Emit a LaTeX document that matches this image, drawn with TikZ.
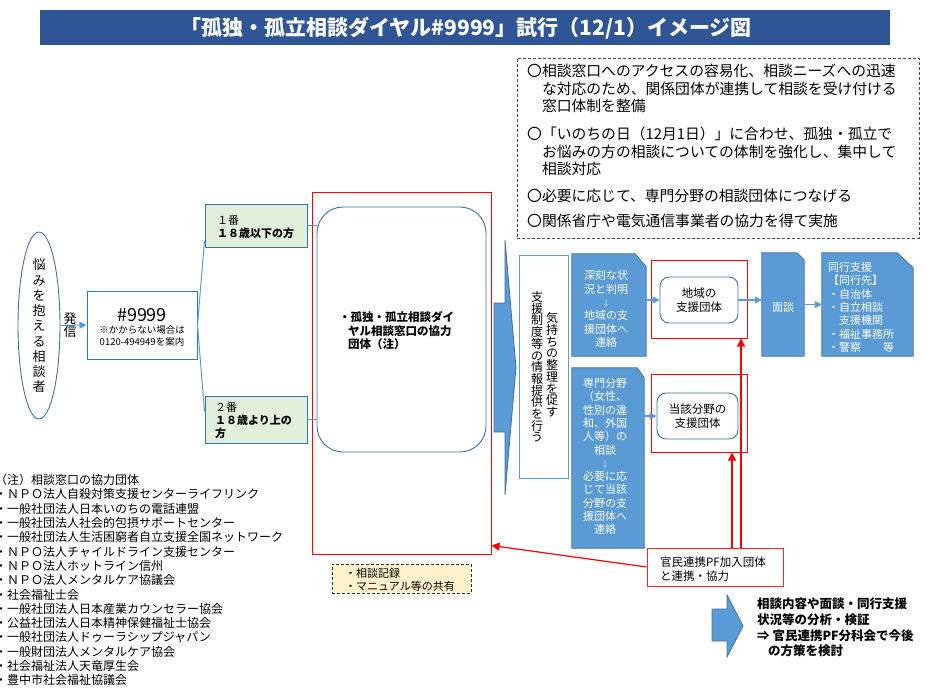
\documentclass[tikz,border=0pt]{standalone}
\usepackage{fontspec}
\setmainfont{Noto Sans CJK JP}
\usetikzlibrary{arrows.meta,shapes.geometric,calc}
\definecolor{titlebg}{HTML}{2F5597}
\definecolor{bfill}{HTML}{5B9BD5}
\definecolor{bborder}{HTML}{41719C}
\definecolor{lblue}{HTML}{5B9BD5}
\definecolor{gfill}{HTML}{E2EFDA}
\definecolor{gborder}{HTML}{2E75B6}
\definecolor{yfill}{HTML}{FFF2CC}
\lineskiplimit=-30pt
\tikzset{
  txt/.style={inner sep=0pt, anchor=base west, align=left},
  fs/.style 2 args={font=\fontsize{#1}{#2}\selectfont},
  bfs/.style 2 args={font=\bfseries\fontsize{#1}{#2}\selectfont},
  bluepoly/.style={fill=bfill, draw=bborder, line width=0.8pt},
  barrow/.style={draw=lblue, line width=1.3pt, -{Triangle[length=7pt,width=7pt]}},
  redarrow/.style={draw=red, line width=1.2pt, -{Triangle[length=8pt,width=8pt]}},
  fanline/.style={draw=lblue, line width=1pt},
  redbox/.style={draw=red, line width=1pt, inner sep=0pt},
  roundbox/.style={draw=bborder, fill=white, line width=0.9pt, inner sep=0pt},
  dashbox/.style={draw=black!70, dash pattern=on 3pt off 2pt, line width=0.9pt, inner sep=0pt},
}
\begin{document}
\begin{tikzpicture}[x=1pt,y=-1pt]
\useasboundingbox (0,0) rectangle (932,689);
\clip (0,0) rectangle (932,689);

% title
\node[fill=titlebg, minimum width=850, minimum height=35, inner sep=0pt] (titlebar) at (465,27.5) {};
\node[text=white, bfs={21}{21}, inner sep=0pt] (title) at (466,28) {「孤独・孤立相談ダイヤル\#9999」試行（12/1）イメージ図};

% goals box (base = last line)
\node[dashbox, minimum width=402, minimum height=180] (goals) at (718,148) {};
\node[txt, fs={14.8}{17.5}] (g1) at (527,111.6) {〇相談窓口へのアクセスの容易化、相談ニーズへの迅速\\　な対応のため、関係団体が連携して相談を受け付ける\\　窓口体制を整備};
\node[txt, fs={14.8}{17.5}] (g2) at (527,174.6) {〇「いのちの日（12月1日）」に合わせ、孤独・孤立で\\　お悩みの方の相談についての体制を強化し、集中して\\　相談対応};
\node[txt, fs={14.8}{17.5}] (g3) at (527,201.6) {〇必要に応じて、専門分野の相談団体につなげる};
\node[txt, fs={14.8}{17.5}] (g4) at (527,226.6) {〇関係省庁や電気通信事業者の協力を得て実施};

% caller ellipse
\node[draw=bborder, ellipse, line width=0.9pt, minimum width=42, minimum height=187, inner sep=0pt] (ell) at (39,325.5) {};
\node[fs={13}{15.25}, align=center, inner sep=0pt] (elltext) at (39,326) {悩\\み\\を\\抱\\え\\る\\相\\談\\者};

% #9999 box
\node[draw=gborder, line width=1pt, minimum width=110, minimum height=68, inner sep=0pt] (n9999) at (142,325) {};
\node[fs={18}{18}, inner sep=0pt] (num) at (142,315) {\#9999};
\node[fs={9.5}{11.5}, align=center, inner sep=0pt] (note) at (142,336) {※かからない場合は\\0120-494949を案内};
\draw[barrow, line width=1pt] (ell.east) -- (n9999.west);
\node[fs={13}{13}, align=center, inner sep=0pt] (hasshin) at (70,325.5) {発\\信};

% 1ban / 2ban
\node[draw=gborder, fill=gfill, line width=1pt, minimum width=102, minimum height=43, inner sep=0pt] (ban1) at (256,225.5) {};
\node[txt, fs={11}{13.2}] (ban1t) at (217,237.4) {１番\\\textbf{１８歳以下の方}};
\node[draw=gborder, fill=gfill, line width=1pt, minimum width=102, minimum height=47, inner sep=0pt] (ban2) at (256,419.5) {};
\node[txt, fs={11}{13.2}] (ban2t) at (215,437.6) {２番\\\textbf{１８歳より上の}\\\textbf{方}};
\draw[fanline] ([yshift=7pt]ban1.south west) -- (n9999.east) -- ([yshift=-16pt]ban2.north west);

% big red + rounded box
\node[redbox, minimum width=179, minimum height=362] (bigred) at (401.5,373) {};
\node[roundbox, rounded corners=26pt, minimum width=169, minimum height=245] (mado) at (401.5,329.5) {};
\node[txt, bfs={11.5}{13.6}] (madot) at (339,348.6) {・孤独・孤立相談ダイ\\\hspace*{9pt}ヤル相談窓口の協力\\\hspace*{9pt}団体（注）};
\draw[fanline] (ban1.east) -- (ban1.east -| mado.west);
\draw[fanline] (ban2.east) -- (ban2.east -| mado.west);

% big block arrow
\draw[bluepoly] (494,303) -- (505,303) -- (505,240) -- (516,367.5) -- (505,495) -- (505,432) -- (494,432) -- cycle;

% vertical text box
\node[draw=lblue, line width=0.8pt, minimum width=49, minimum height=223, inner sep=0pt] (vbox) at (543.5,366.5) {};
\node[fs={12}{11.75}, align=center, inner sep=0pt] (vcol1) at (552,365) {気\\持\\ち\\の\\整\\理\\を\\促\\す};
\node[fs={12}{11.7}, align=center, inner sep=0pt] (vcol2) at (537,367) {支\\援\\制\\度\\等\\の\\情\\報\\提\\供\\を\\行\\う};

% blue box 1
\node[inner sep=0pt, minimum width=74, minimum height=102] (b1) at (609,305) {};
\draw[bluepoly] (b1.south west) -- (b1.north west) -- ([xshift=-11pt]b1.north east) -- ([yshift=-13pt]b1.north east) -- (b1.south east) -- cycle;
\node[fs={11}{13.4}, align=center, text=white, inner sep=0pt] (b1t) at (606,309) {深刻な状\\況と判明\\{\fontsize{8}{8}\selectfont\color{white!75!bfill}↓}\\地域の支\\援団体へ\\連絡};

% blue box 2
\node[inner sep=0pt, minimum width=72, minimum height=180] (b2) at (608,458) {};
\draw[bluepoly] (b2.south west) -- (b2.north west) -- ([xshift=-7pt]b2.north east) -- ([yshift=-10pt]b2.north east) -- (b2.south east) -- cycle;
\node[fs={11}{13.3}, align=center, text=white, inner sep=0pt] (b2t) at (605,456.5) {専門分野\\（女性、\\性別の違\\和、外国\\人等）の\\相談\\{\fontsize{8}{8}\selectfont\color{white!75!bfill}↓}\\必要に応\\じて当該\\分野の支\\援団体へ\\連絡};

% support orgs
\node[redbox, minimum width=96, minimum height=78] (red1) at (699,299) {};
\node[roundbox, rounded corners=9pt, minimum width=78, minimum height=46, align=center, fs={11.5}{14}] (chiiki) at (699,300) {地域の\\支援団体};
\node[redbox, minimum width=96, minimum height=78] (red2) at (699,413) {};
\node[roundbox, rounded corners=9pt, minimum width=81, minimum height=46, align=center, fs={11.5}{14}] (tougai) at (697.5,416) {当該分野の\\支援団体};
\draw[barrow] (chiiki.west -| b1.east) -- (chiiki.west);
\draw[barrow] (tougai.west -| b2.east) -- (tougai.west);

% mendan
\node[inner sep=0pt, minimum width=42, minimum height=103] (mendan) at (783,304.5) {};
\draw[bluepoly] (mendan.south west) -- (mendan.north west) -- ([xshift=-7pt]mendan.north east) -- ([yshift=-7pt]mendan.north east) -- (mendan.south east) -- cycle;
\node[fs={11}{13}, text=white, inner sep=0pt] (mendant) at (783,307) {面談};
\draw[barrow] (chiiki.east) -- (chiiki.east -| mendan.west);

% doukou
\node[inner sep=0pt, minimum width=91, minimum height=103] (doukou) at (867.5,304.5) {};
\draw[bluepoly] (doukou.south west) -- (doukou.north west) -- ([xshift=-16pt]doukou.north east) -- ([yshift=-15pt]doukou.north east) -- (doukou.south east) -- cycle;
\node[txt, fs={11}{13.4}, text=white] (doukout) at (828,351.6) {同行支援\\【同行先】\\・自治体\\・自立相談\\　支援機関\\・福祉事務所\\・警察　　等};
\draw[barrow] (mendan.east) -- (mendan.east -| doukou.west);

% kanmin box
\node[draw=red!85, line width=1pt, minimum width=136, minimum height=38, inner sep=0pt] (kanmin) at (715,567) {};
\node[txt, fs={11.5}{14.5}] (kanmint) at (660,580.9) {官民連携PF加入団体\\と連携・協力};
\draw[redarrow] ([xshift=26pt]kanmin.north) -- ([xshift=26pt]kanmin.north |- red1.south);
\draw[redarrow] ([xshift=17pt]kanmin.north) -- ([xshift=17pt]kanmin.north |- red2.south);
\draw[redarrow] (kanmin.west) -- ([yshift=9pt]bigred.south east);

% shared records
\node[dashbox, draw=black!80, fill=yfill, minimum width=139, minimum height=29] (share) at (401.5,578.5) {};
\node[txt, fs={11}{13}] (sharet) at (345,590.2) {・相談記録\\・マニュアル等の共有};

% bottom right arrow + text
\draw[bluepoly] (712,609) -- (727,609) -- (727,595) -- (743,626) -- (727,657) -- (727,641) -- (712,641) -- cycle;
\node[txt, bfs={12.5}{15.7}] (analysis) at (757,655.8) {相談内容や面談・同行支援\\状況等の分析・検証\\⇒ 官民連携PF分科会で今後\\\hspace*{11pt}の方策を検討};

% list
\node[txt, fs={12}{14.3}] (list) at (-5,684.8) {（注）相談窓口の協力団体\\・ＮＰＯ法人自殺対策支援センターライフリンク\\・一般社団法人日本いのちの電話連盟\\・一般社団法人社会的包摂サポートセンター\\・一般社団法人生活困窮者自立支援全国ネットワーク\\・ＮＰＯ法人チャイルドライン支援センター\\・ＮＰＯ法人ホットライン信州\\・ＮＰＯ法人メンタルケア協議会\\・社会福祉士会\\・一般社団法人日本産業カウンセラー協会\\・公益社団法人日本精神保健福祉士協会\\・一般社団法人ドゥーラシップジャパン\\・一般財団法人メンタルケア協会\\・社会福祉法人天竜厚生会\\・豊中市社会福祉協議会};
\end{tikzpicture}
\end{document}
